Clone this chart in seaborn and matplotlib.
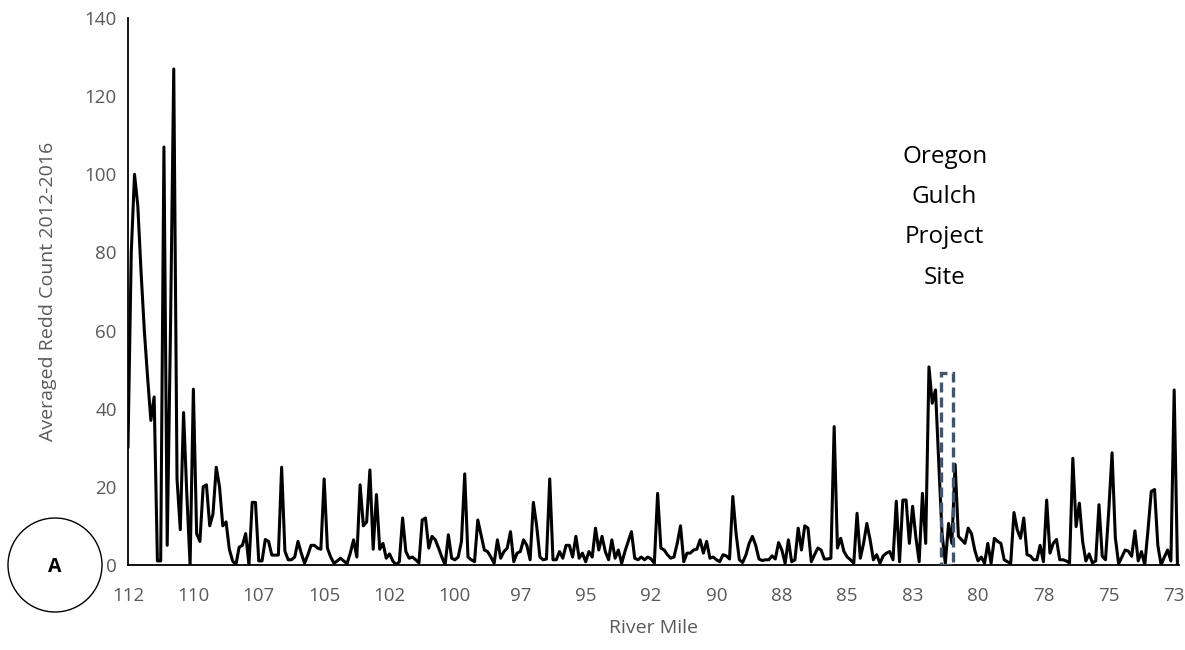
import numpy as np
import matplotlib
matplotlib.use("Agg")
import matplotlib.pyplot as plt
from matplotlib.patches import Rectangle, Ellipse
import seaborn as sns

# -----------------------------
# Data
# -----------------------------
redd_counts = [
    30, 80, 100, 92, 75, 60, 48, 37, 43, 1, 1, 107, 5, 60, 127, 22, 9, 39, 18, 0,
    45, 8, 6, 20, 20.5, 10, 13, 25, 20, 10, 11, 4, 1, 0, 4.5, 5, 8, 0, 16, 16,
    1, 1, 6.5, 6, 2.5, 2.5, 2.5, 25, 3.5, 1.3, 1.3, 2, 6, 3, 0.4, 2.5, 5, 5, 4.3, 4,
    22, 4.3, 2, 0.4, 1, 1.7, 1, 0.3, 3, 6.4, 2, 20.5, 10, 11, 24.3, 4, 18, 4, 5.5, 1.7,
    2.8, 1, 0, 0.8, 12, 3.4, 1.7, 2, 1.3, 0.5, 11.5, 12, 4.3, 7.3, 6.4, 4.3, 2, 0, 7.7, 1.7,
    1.3, 2, 6, 23.3, 2, 1.3, 0.8, 11.5, 7.7, 3.8, 3.4, 2, 0.4, 6.4, 1.7, 3.4, 4.3, 8.5, 0.8, 3,
    3.4, 6.4, 5, 1.3, 16, 10, 2, 1.3, 1.5, 22, 1.3, 1.3, 3.4, 1.7, 5, 5, 2, 7.3, 1.7, 3,
    0.8, 3.4, 2, 9.4, 3.8, 7.3, 3.4, 1.3, 6.4, 1.7, 3.8, 0.4, 3.4, 6, 8.5, 1.7, 1.3, 2, 1.3, 2,
    1.5, 0.4, 18.3, 4.3, 3.8, 2.6, 1.7, 2, 5.5, 10, 0.8, 3, 3, 3.8, 4, 6.4, 3, 6, 1.7, 2,
    1.3, 0.8, 2.6, 2.3, 1.5, 17.5, 8, 1.3, 0.6, 2.5, 5.5, 7.3, 5, 1.5, 1.1, 1.3, 1.3, 2.3, 1.5, 5.7,
    3.8, 0.4, 6.4, 0.8, 1.3, 9.4, 3.8, 10, 9.4, 0.8, 2.6, 4.3, 3.8, 1.5, 1.5, 1.7, 35.4, 4.3, 6.8, 3.4,
    2, 1.3, 0.4, 13.2, 1.7, 5.5, 10.6, 6.4, 1.3, 2.6, 0.4, 2.3, 3, 3.4, 1.3, 16.3, 0.8, 16.6, 16.6, 5.5,
    15, 7, 0.8, 18.3, 5.5, 50.7, 41.4, 44.8, 26, 8, 0.4, 10.6, 5.5, 25.7, 7.3, 6.4, 5.5, 9.4, 8, 3.8,
    1, 2, 0.4, 5.5, 0.4, 6.8, 6, 5.5, 1.3, 0.8, 0.4, 13.4, 9, 6.8, 12, 2.6, 2.3, 1.3, 1.3, 5,
    0.8, 16.6, 3, 5.5, 6.5, 1.3, 1.3, 1, 0.5, 27.3, 9.8, 15.8, 6, 1, 2.8, 0.5, 1, 15.4, 2.2, 1.3,
    14, 28.7, 7, 0.3, 2, 3.8, 3.5, 2.2, 8.7, 1, 3.4, 0, 9, 18.8, 19.3, 5, 0, 2, 3.8, 1,
    44.8, 0,
]

mile_labels = ["112", "110", "107", "105", "102", "100", "97", "95", "92",
               "90", "88", "85", "83", "80", "78", "75", "73"]

site_label = "Oregon\nGulch\nProject\nSite"

# -----------------------------
# Style
# -----------------------------
sns.set_theme(style="white")
plt.rcParams["font.family"] = ["Open Sans", "DejaVu Sans"]
grey = "#595959"

fig = plt.figure(figsize=(11.85, 6.5), dpi=100)
ax = fig.add_axes([0.108, 0.131, 0.887, 0.841])

position = np.arange(len(redd_counts))
sns.lineplot(x=position, y=redd_counts, color="black", linewidth=2.2, ax=ax)

# -----------------------------
# Axes
# -----------------------------
ax.set_xlim(0, len(redd_counts) - 0.5)
ax.set_ylim(0, 140)
ax.set_yticks(range(0, 141, 20))
ax.set_xticks(position[::20][:len(mile_labels)])
ax.set_xticklabels(mile_labels)
ax.tick_params(axis="both", length=0, labelsize=13.5, colors=grey)
ax.tick_params(axis="x", pad=16)
ax.tick_params(axis="y", pad=8)

for side in ["top", "right"]:
    ax.spines[side].set_visible(False)
for side in ["left", "bottom"]:
    ax.spines[side].set_color("black")
    ax.spines[side].set_linewidth(1.3)

ax.set_xlabel("River Mile", fontsize=14, color=grey, labelpad=10)
ax.set_ylabel("Averaged Redd Count 2012-2016", fontsize=14, color=grey, labelpad=20)

# Project site marker
ax.add_patch(Rectangle((248.7, 0), 3.6, 49.2, fill=False, edgecolor="#44546A",
                       linewidth=2.4, linestyle=(0, (3, 1.5)), zorder=3))
ax.text(249.8, 89.0, site_label, ha="center", va="center", fontsize=17.5,
        color="black", linespacing=1.9)

# Panel letter
fig.add_artist(Ellipse((55 / 1185, 1 - 565 / 650), 94 / 1185, 94 / 650,
                       transform=fig.transFigure, fill=False, edgecolor="black",
                       linewidth=1.0))
fig.text(55 / 1185, 1 - 567 / 650, "A", ha="center", va="center",
         fontsize=14, fontweight="bold", color="black")

fig.savefig("out.png", dpi=100)
plt.close(fig)
